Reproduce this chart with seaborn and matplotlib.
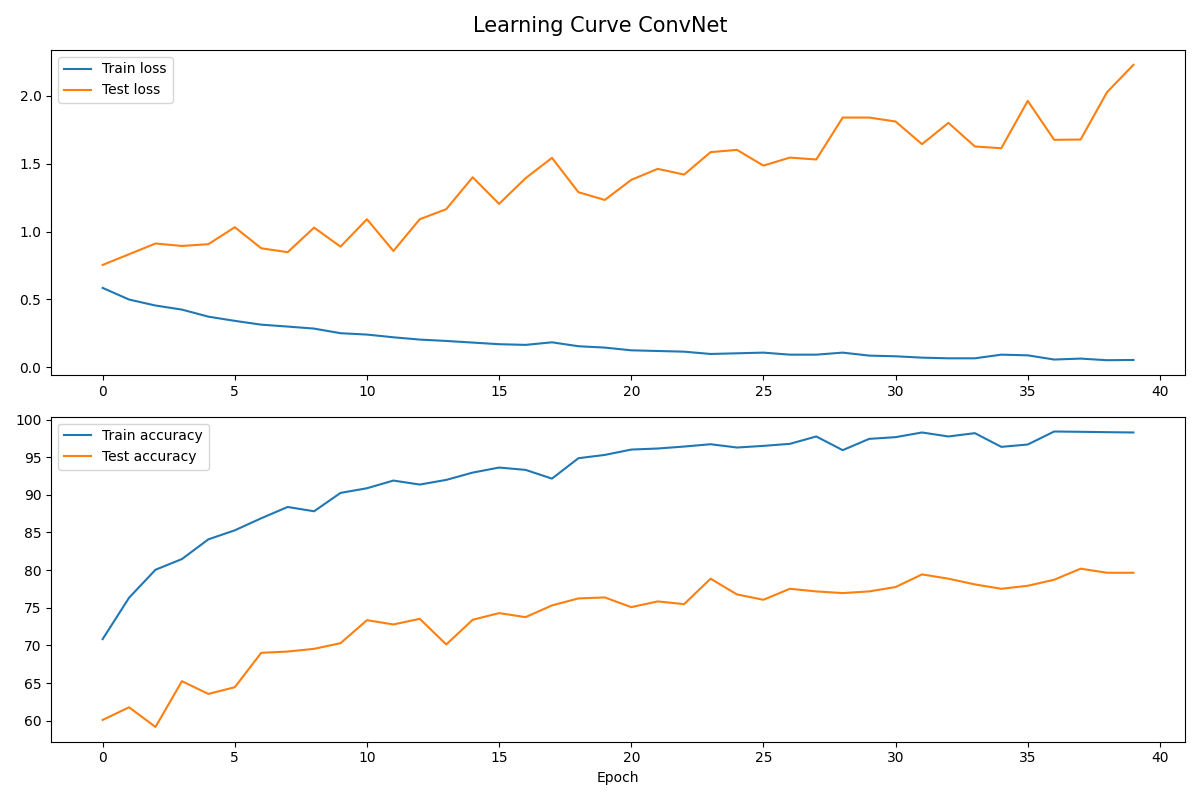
import matplotlib
matplotlib.use("Agg")
import matplotlib.pyplot as plt
import seaborn as sns
import numpy as np

epochs = list(range(40))

train_loss = [0.585, 0.499, 0.455, 0.425, 0.373, 0.342, 0.314, 0.300, 0.285, 0.251,
              0.241, 0.221, 0.204, 0.194, 0.182, 0.170, 0.165, 0.184, 0.155, 0.145,
              0.125, 0.120, 0.115, 0.098, 0.103, 0.108, 0.093, 0.093, 0.108, 0.086,
              0.081, 0.071, 0.066, 0.066, 0.093, 0.088, 0.057, 0.064, 0.052, 0.054]

test_loss = [0.754, 0.833, 0.912, 0.894, 0.907, 1.032, 0.877, 0.848, 1.029, 0.889,
             1.091, 0.857, 1.091, 1.165, 1.400, 1.204, 1.393, 1.543, 1.290, 1.233,
             1.381, 1.462, 1.420, 1.585, 1.602, 1.486, 1.545, 1.531, 1.840, 1.840,
             1.811, 1.644, 1.801, 1.627, 1.614, 1.963, 1.676, 1.678, 2.027, 2.229]

train_acc = [70.83, 76.33, 80.05, 81.47, 84.09, 85.29, 86.89, 88.39, 87.82, 90.26,
             90.88, 91.90, 91.37, 91.99, 92.96, 93.63, 93.32, 92.16, 94.87, 95.31,
             96.02, 96.16, 96.42, 96.73, 96.29, 96.51, 96.78, 97.76, 95.94, 97.44,
             97.67, 98.29, 97.76, 98.20, 96.38, 96.69, 98.42, 98.38, 98.33, 98.29]

test_acc = [60.09, 61.77, 59.16, 65.24, 63.55, 64.44, 69.01, 69.18, 69.54, 70.29,
            73.35, 72.78, 73.53, 70.12, 73.40, 74.29, 73.75, 75.31, 76.24, 76.37,
            75.08, 75.84, 75.48, 78.86, 76.77, 76.06, 77.52, 77.17, 76.95, 77.17,
            77.75, 79.43, 78.86, 78.10, 77.52, 77.92, 78.72, 80.19, 79.65, 79.65]

fig, axes = plt.subplots(2, 1, figsize=(12, 8), dpi=100)

sns.lineplot(x=epochs, y=train_loss, ax=axes[0], label="Train loss", color="#1f77b4")
sns.lineplot(x=epochs, y=test_loss, ax=axes[0], label="Test loss", color="#ff7f0e")
axes[0].legend(loc="upper left")
axes[0].set_xlabel("")
axes[0].set_ylabel("")

sns.lineplot(x=epochs, y=train_acc, ax=axes[1], label="Train accuracy", color="#1f77b4")
sns.lineplot(x=epochs, y=test_acc, ax=axes[1], label="Test accuracy", color="#ff7f0e")
axes[1].legend(loc="upper left")
axes[1].set_xlabel("Epoch")
axes[1].set_ylabel("")

fig.suptitle("Learning Curve ConvNet", fontsize=15)
fig.tight_layout()
fig.savefig("out.png", dpi=100)
